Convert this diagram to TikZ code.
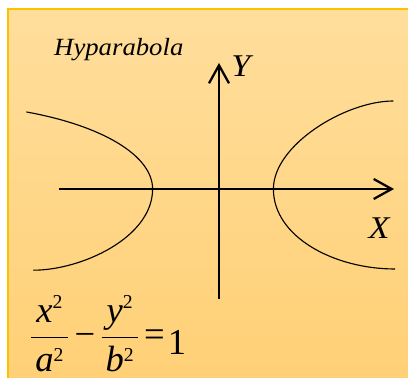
\documentclass[tikz,border=0pt]{standalone}
\usepackage{fix-cm}
\usepackage{amsmath}
\usepackage{fontspec}
\setmainfont{Liberation Serif}
\usepackage{xcolor}
\usepackage{tikz}
\usetikzlibrary{arrows.meta}
\definecolor{boxtop}{RGB}{255,222,156}
\definecolor{boxbottom}{RGB}{255,208,118}
\definecolor{boxline}{RGB}{255,192,0}
\newcommand{\wide}[1]{\scalebox{1.08}[1]{#1}}
\newcommand{\sqr}{^{\text{\fontsize{14}{14}\selectfont 2}}}
\newcommand{\pad}{\mkern2mu}

\begin{document}
\begin{tikzpicture}[axis/.style={line width=1.6pt,line join=round,-{Straight Barb[length=0.45cm,width=0.5cm]}},
  branch/.style={line width=0.8pt},
  lbl/.style={inner sep=0pt,anchor=base}]
  \useasboundingbox (-5.475,-4.725) rectangle (4.725,4.725);
  \shade[top color=boxtop,bottom color=boxbottom] (-5.275,-4.725) rectangle (4.725,4.5);
  \draw[boxline,line width=1pt] (-5.275,-4.725) |- (4.725,4.5);
  \coordinate (xstart) at (-4,0);
  \coordinate (xend) at (4.375,0);
  \coordinate (ystart) at (0,-2.75);
  \coordinate (yend) at (0,3.15);
  \coordinate (lv) at (-1.66,0);
  \coordinate (rv) at (1.36,0);
  \draw[branch] (lv) arc[start angle=0,end angle=65,x radius=5.465,y radius=2.125];
  \draw[branch] (lv) .. controls (-1.66,-1.22) and (-3.448,-2.03) .. (-4.64,-2.03);
  \draw[branch] (rv) .. controls (1.36,1.1) and (3.16,2.2) .. (4.36,2.2);
  \draw[branch] (rv) .. controls (1.36,-1.2) and (2.88,-2.0) .. (4.4,-2.0);
  \draw[axis] (xstart) -- (xend);
  \draw[axis] (ystart) -- (yend);
  \node[lbl,font=\fontsize{17.6}{20}\selectfont] (title) at (-2.505,3.33) {\wide{\textit{Hyparabola}}};
  \node[lbl,font=\fontsize{22.5}{26}\selectfont] (ylabel) at (0.5875,2.808) {\wide{\textit{Y}}};
  \node[lbl,font=\fontsize{22.5}{26}\selectfont] (xlabel) at (4.017,-1.25) {\wide{\textit{X}}};
  \node[lbl,anchor=base west,font=\fontsize{26}{30}\selectfont] (eq) at (-4.7425,-3.946)
    {$\dfrac{\pad\mathit{x}\sqr\pad}{\pad\mathit{a}\sqr\pad}\mkern2.3mu\text{−}\mkern2.3mu\dfrac{\pad\mathit{y}\sqr\pad}{\pad\mathit{b}\sqr\pad}\mkern2mu\text{=}\mkern1.5mu\raisebox{-0.223em}{1}$};
\end{tikzpicture}
\end{document}
